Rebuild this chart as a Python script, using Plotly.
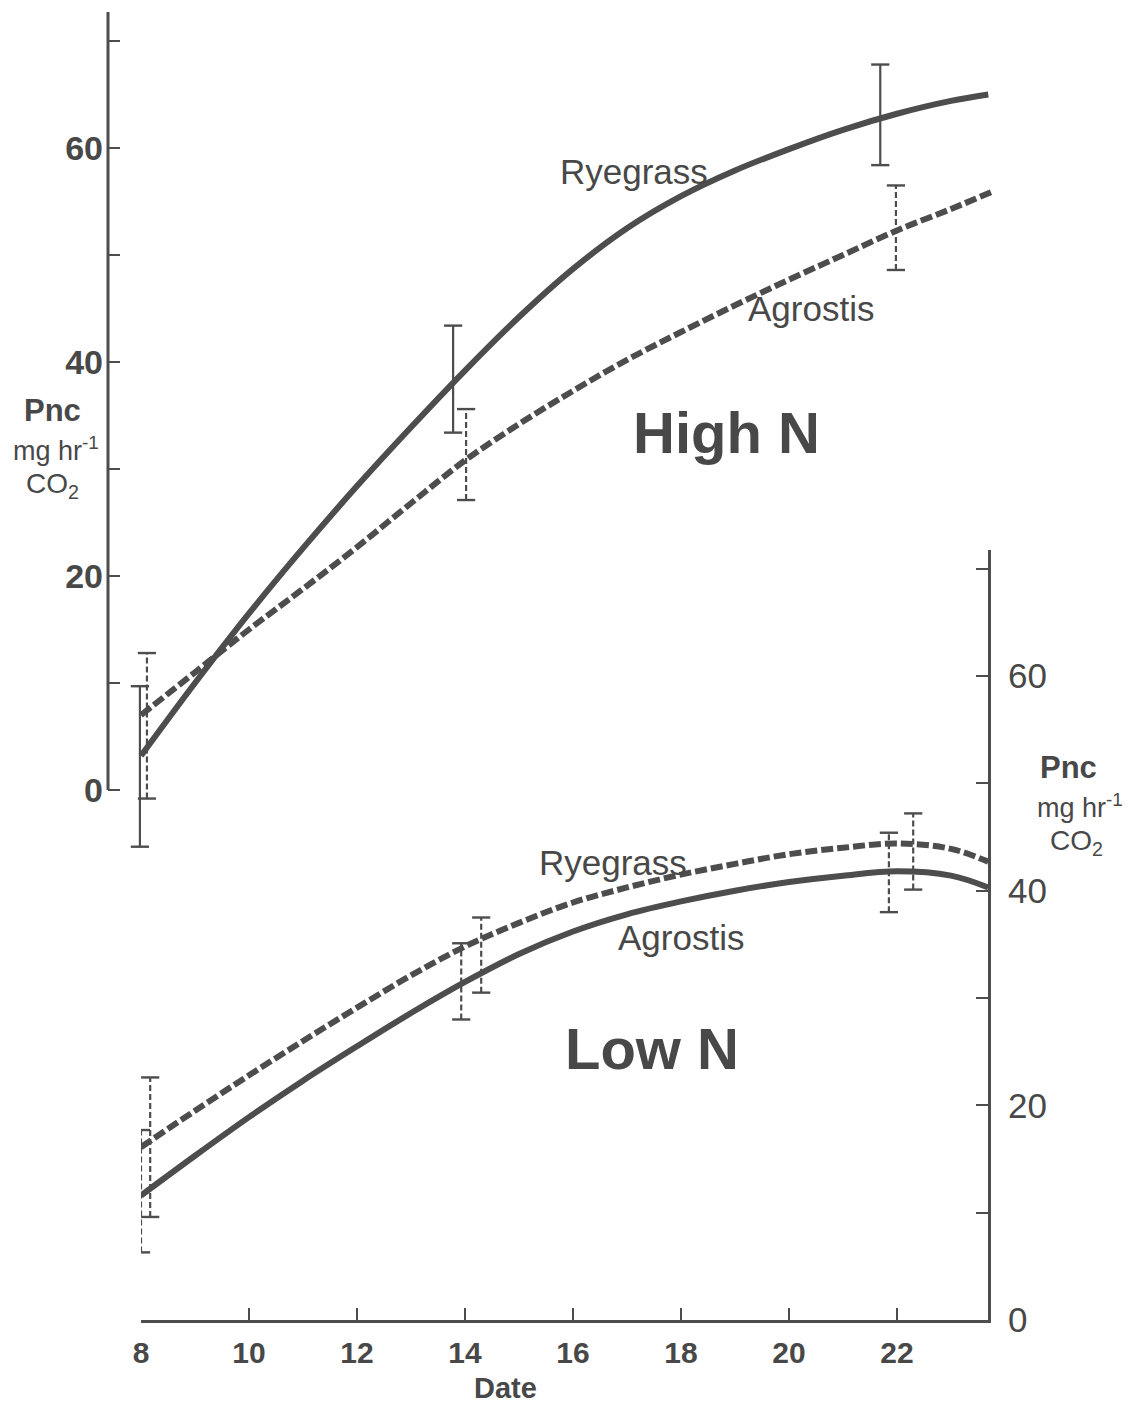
import plotly.graph_objects as go

W, H = 1140, 1404

# ---------------- data ----------------
dates = [8, 9, 10, 11, 12, 13, 14, 15, 16, 17, 18, 19, 20, 21, 22, 23, 23.69]

# High N panel
highN_ryegrass = [3.2, 10.0, 16.5, 22.6, 28.4, 33.9, 39.2, 44.2, 48.7, 52.5, 55.5, 57.9, 59.9, 61.7, 63.2, 64.4, 65.0]
highN_agrostis_dates = [8, 9, 10, 11, 12, 13, 14, 15, 16, 17, 18, 19, 20, 21, 22, 23, 23.8]
highN_agrostis = [7.0, 11.0, 15.0, 18.8, 22.7, 26.8, 30.8, 34.2, 37.3, 40.2, 42.8, 45.3, 47.7, 50.0, 52.3, 54.3, 56.0]

# High N error bars (date, low, high)
highN_ry_err_x = [7.98, 13.78, 21.69]
highN_ry_err_lo = [-5.3, 33.4, 58.4]
highN_ry_err_hi = [9.7, 43.4, 67.8]
highN_ag_err_x = [8.11, 14.02, 21.98]
highN_ag_err_lo = [-0.8, 27.1, 48.6]
highN_ag_err_hi = [12.8, 35.6, 56.5]

# Low N panel
lowN_solid = [11.6, 15.3, 18.9, 22.3, 25.5, 28.6, 31.5, 34.1, 36.2, 37.8, 39.0, 40.0, 40.8, 41.4, 41.8, 41.4, 40.3]
lowN_dashed = [16.1, 19.5, 22.8, 26.0, 29.1, 32.1, 34.8, 37.0, 38.9, 40.3, 41.5, 42.5, 43.4, 44.0, 44.4, 43.9, 42.7]

lowN_solid_err_x = [8.0, 13.93, 21.85]
lowN_solid_err_lo = [6.3, 28.0, 38.0]
lowN_solid_err_hi = [17.7, 35.1, 45.4]
lowN_dashed_err_x = [8.17, 14.3, 22.3]
lowN_dashed_err_lo = [9.6, 30.5, 40.1]
lowN_dashed_err_hi = [22.6, 37.5, 47.2]

x_tick_vals = [8, 10, 12, 14, 16, 18, 20, 22]
y_tick_vals = [0, 10, 20, 30, 40, 50, 60, 70]
y_tick_text = ["0", "", "20", "", "40", "", "60", ""]

# ---------------- style ----------------
INK = "#4d4d4d"
TXT = "#484848"
FONT = "Liberation Sans"

# page offset (body margin) between page pixels and figure pixels
BX, BY = 8.0, 8.0


def fx(p):
    return p - BX


def fy(p):
    return p - BY


def px_x(p):
    return fx(p) / W


def px_y(p):
    return 1 - fy(p) / H


def err_trace(xs, los, his, xa, ya, dash):
    xx, yy = [], []
    for x, lo, hi in zip(xs, los, his):
        xx += [x, x, None]
        yy += [lo, hi, None]
    return go.Scatter(
        x=xx, y=yy, xaxis=xa, yaxis=ya, mode="lines+markers",
        line=dict(color=INK, width=2.2, dash=dash),
        marker=dict(symbol="line-ew", size=13, line=dict(color=INK, width=2.4)),
        hoverinfo="skip", showlegend=False,
    )


fig = go.Figure()

DASH = "12px,4px"

# High N curves (top panel)
fig.add_trace(go.Scatter(x=dates, y=highN_ryegrass, xaxis="x2", yaxis="y2", mode="lines",
                         line=dict(color=INK, width=6, shape="spline"), showlegend=False))
fig.add_trace(go.Scatter(x=highN_agrostis_dates, y=highN_agrostis, xaxis="x2", yaxis="y2", mode="lines",
                         line=dict(color=INK, width=6, shape="spline", dash=DASH), showlegend=False))
fig.add_trace(err_trace(highN_ry_err_x, highN_ry_err_lo, highN_ry_err_hi, "x2", "y2", "solid"))
fig.add_trace(err_trace(highN_ag_err_x, highN_ag_err_lo, highN_ag_err_hi, "x2", "y2", "6px,3px"))

# Low N curves (bottom panel)
fig.add_trace(go.Scatter(x=dates, y=lowN_solid, xaxis="x", yaxis="y", mode="lines",
                         line=dict(color=INK, width=6, shape="spline"), showlegend=False))
fig.add_trace(go.Scatter(x=dates, y=lowN_dashed, xaxis="x", yaxis="y", mode="lines",
                         line=dict(color=INK, width=6, shape="spline", dash=DASH), showlegend=False))
fig.add_trace(err_trace(lowN_solid_err_x, lowN_solid_err_lo, lowN_solid_err_hi, "x", "y", "6px,3px"))
fig.add_trace(err_trace(lowN_dashed_err_x, lowN_dashed_err_lo, lowN_dashed_err_hi, "x", "y", "6px,3px"))

x_unit = 54.0       # px per date unit
y_unit_top = 10.7   # px per value unit (top panel)
y_unit_bot = 10.733 # px per value unit (bottom panel)

x0_px = fx(141)   # date 8
xr_px = fx(988)
xl2_px = fx(108)
xr2_px = fx(1000)

ytop0 = fy(790)   # top panel zero
ytop_hi = fy(12)
ytop_lo = fy(880)
ybot0 = fy(1320)
ybot_hi = fy(550)

fig.update_layout(
    width=W, height=H,
    margin=dict(l=0, r=0, t=0, b=0, pad=0),
    paper_bgcolor="white", plot_bgcolor="rgba(0,0,0,0)",
    showlegend=False,
    xaxis=dict(
        domain=[x0_px / W, xr_px / W], range=[8, 8 + (xr_px - x0_px) / x_unit],
        anchor="y", showgrid=False, zeroline=False, automargin=False,
        showline=True, linecolor=INK, linewidth=3,
        tickmode="array", tickvals=x_tick_vals, ticks="inside", ticklen=12,
        tickwidth=2.2, tickcolor=INK,
        tickfont=dict(family=FONT, size=30, color=TXT, weight=700), ticklabelstandoff=4,
    ),
    yaxis=dict(
        domain=[1 - ybot0 / H, 1 - ybot_hi / H], range=[0, (ybot0 - ybot_hi) / y_unit_bot],
        anchor="x", side="right", showgrid=False, zeroline=False, automargin=False,
        showline=True, linecolor=INK, linewidth=3,
        tickmode="array", tickvals=y_tick_vals, ticktext=y_tick_text,
        ticks="inside", ticklen=12, tickwidth=2.2, tickcolor=INK,
        tickfont=dict(family=FONT, size=35, color=TXT), ticklabelstandoff=10,
    ),
    xaxis2=dict(
        domain=[xl2_px / W, xr2_px / W],
        range=[8 - (x0_px - xl2_px) / x_unit, 8 + (xr2_px - x0_px) / x_unit],
        anchor="y2", visible=False, automargin=False,
    ),
    yaxis2=dict(
        domain=[1 - ytop_lo / H, 1 - ytop_hi / H],
        range=[-(ytop_lo - ytop0) / y_unit_top, (ytop0 - ytop_hi) / y_unit_top],
        anchor="x2", side="left", showgrid=False, zeroline=False, showline=False, automargin=False,
        tickmode="array", tickvals=y_tick_vals, ticktext=y_tick_text,
        ticks="inside", ticklen=12, tickwidth=2.2, tickcolor=INK,
        tickfont=dict(family=FONT, size=34, color=TXT, weight=700), ticklabelstandoff=4,
    ),
)

# top panel's y axis line (only from 0 upward)
fig.add_shape(type="line", xref="x2 domain", yref="y2", x0=0, x1=0,
              y0=0, y1=(ytop0 - ytop_hi) / y_unit_top,
              line=dict(color=INK, width=3))


def label(text, x, y, size, bold=False):
    fig.add_annotation(text=text, x=px_x(x), y=px_y(y), xref="paper", yref="paper",
                       showarrow=False, xanchor="center", yanchor="middle",
                       font=dict(family=FONT, size=size, color=TXT, weight=700 if bold else 400))


label("Ryegrass", 634, 172, 35)
label("Agrostis", 811, 308, 35)
label("High N", 726, 432, 58, bold=True)
label("Ryegrass", 613, 862, 35)
label("Agrostis", 681, 937, 35)
label("Low N", 652, 1048, 58, bold=True)

label("Pnc", 52, 411, 31, bold=True)
label("mg hr<sup>-1</sup>", 56, 449, 27)
label("CO<sub>2</sub>", 52, 485, 28)
label("Pnc", 1068, 767, 31, bold=True)
label("mg hr<sup>-1</sup>", 1080, 806, 27)
label("CO<sub>2</sub>", 1076, 842, 28)

label("Date", 505, 1388, 29, bold=True)

fig.write_html("out.html")
